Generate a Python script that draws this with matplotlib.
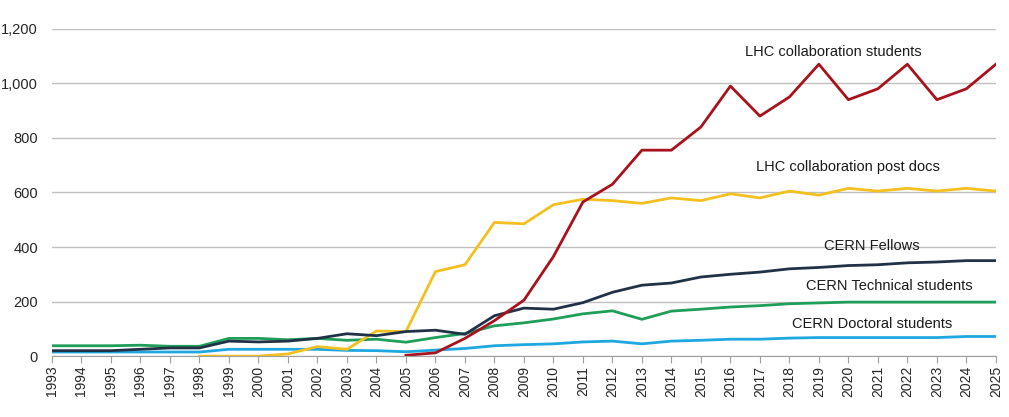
import matplotlib.pyplot as plt
import numpy as np

plt.rcParams['font.family'] = ['Liberation Sans', 'DejaVu Sans']

years = list(range(1993, 2026))

# LHC collaboration students (from 2005)
lhc_students_years = list(range(2005, 2026))
lhc_students = [3, 12, 65, 130, 205, 365, 565, 630, 755, 755, 840, 990, 880, 950,
                1070, 940, 980, 1070, 940, 980, 1070]

# LHC collaboration post docs (from 1998)
lhc_postdocs_years = list(range(1998, 2026))
lhc_postdocs = [0, 0, 0, 8, 35, 25, 92, 90, 310, 335, 490, 485, 555, 575, 570, 560,
                580, 570, 595, 580, 605, 590, 615, 605, 615, 605, 615, 605]

cern_fellows = [20, 20, 20, 25, 30, 30, 55, 52, 55, 65, 82, 75, 90, 95, 80, 148,
                176, 172, 196, 234, 260, 268, 290, 300, 308, 320, 325, 332, 335,
                342, 345, 350, 350]

cern_technical = [38, 38, 38, 40, 36, 36, 65, 65, 60, 65, 58, 62, 51, 68, 83, 111,
                  122, 136, 155, 166, 135, 165, 172, 180, 185, 192, 195, 198, 198,
                  198, 198, 198, 198]

cern_doctoral = [15, 15, 15, 15, 15, 15, 25, 25, 25, 25, 21, 20, 16, 22, 28, 38,
                 42, 45, 52, 55, 45, 55, 58, 62, 62, 66, 68, 68, 68, 68, 68, 72, 72]

fig = plt.figure(figsize=(10.09, 4.17), dpi=100)
ax = fig.add_axes([0.0515, 0.146, 0.9355, 0.785])

ax.plot(years, cern_doctoral, color='#1FA7E0', lw=2)
ax.plot(years, cern_technical, color='#1F9E59', lw=2)
ax.plot(lhc_postdocs_years, lhc_postdocs, color='#F4C020', lw=2)
ax.plot(years, cern_fellows, color='#213247', lw=2)
ax.plot(lhc_students_years, lhc_students, color='#A8121C', lw=2)

ax.set_xlim(1993, 2025)
ax.set_ylim(0, 1200)
ax.set_yticks(np.arange(0, 1201, 200))
ax.set_yticklabels([f'{v:,}' for v in range(0, 1201, 200)])
ax.set_xticks(years)
ax.set_xticklabels([str(y) for y in years], rotation=90)

ax.grid(axis='y', color='#C0C0C0', lw=1)
ax.set_axisbelow(True)
for s in ['top', 'right', 'left']:
    ax.spines[s].set_visible(False)
ax.spines['bottom'].set_color('#A0A0A0')
ax.tick_params(axis='y', length=0, labelsize=10.5, colors='#262626', pad=10)
ax.tick_params(axis='x', length=5, color='#A0A0A0', labelsize=10,
               labelcolor='#262626', pad=2)

lab = dict(fontsize=10.5, color='#1A1A1A', ha='center', va='center')
ax.text(2019.5, 1115, 'LHC collaboration students', **lab)
ax.text(2020.0, 695, 'LHC collaboration post docs', **lab)
ax.text(2020.8, 403, 'CERN Fellows', **lab)
ax.text(2021.4, 256, 'CERN Technical students', **lab)
ax.text(2020.8, 118, 'CERN Doctoral students', **lab)

fig.savefig('out.png', dpi=100)
